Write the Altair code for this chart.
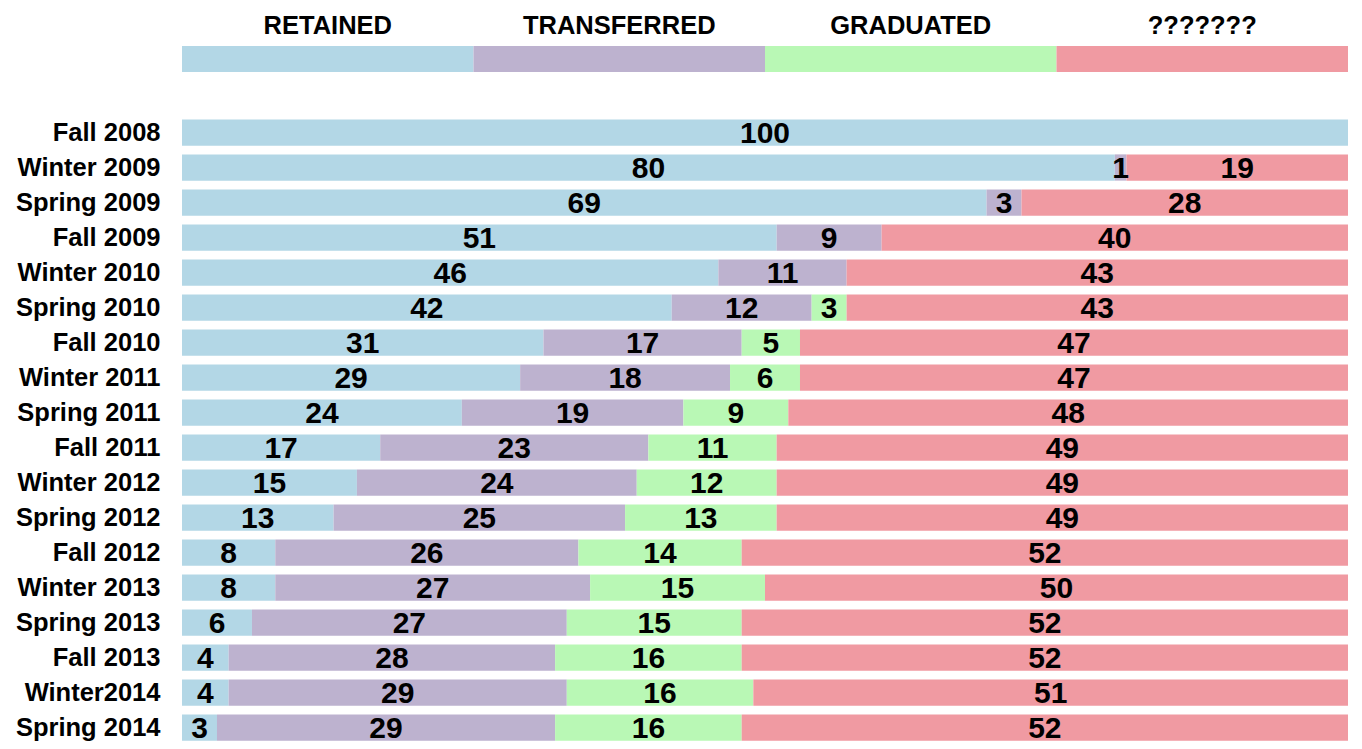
import altair as alt
import pandas as pd

periods = ["Fall 2008", "Winter 2009", "Spring 2009", "Fall 2009", "Winter 2010",
           "Spring 2010", "Fall 2010", "Winter 2011", "Spring 2011", "Fall 2011",
           "Winter 2012", "Spring 2012", "Fall 2012", "Winter 2013", "Spring 2013",
           "Fall 2013", "Winter2014", "Spring 2014"]
categories = ["RETAINED", "TRANSFERRED", "GRADUATED", "???????"]
colors = ["#b3d7e6", "#bdb2cf", "#b9f8b5", "#f09aa2"]

retained = [100, 80, 69, 51, 46, 42, 31, 29, 24, 17, 15, 13, 8, 8, 6, 4, 4, 3]
transferred = [0, 1, 3, 9, 11, 12, 17, 18, 19, 23, 24, 25, 26, 27, 27, 28, 29, 29]
graduated = [0, 0, 0, 0, 0, 3, 5, 6, 9, 11, 12, 13, 14, 15, 15, 16, 16, 16]
unknown = [0, 19, 28, 40, 43, 43, 47, 47, 48, 49, 49, 49, 52, 50, 52, 52, 51, 52]

series = [retained, transferred, graduated, unknown]
rows = []
for i, p in enumerate(periods):
    for j, c in enumerate(categories):
        rows.append({"period": p, "category": c, "order": j, "value": series[j][i]})
df = pd.DataFrame(rows)

FONT = "Liberation Sans, Arial, Helvetica, sans-serif"
color_scale = alt.Scale(domain=categories, range=colors)

legend = alt.Chart(pd.DataFrame({"category": categories})).mark_bar().encode(
    x=alt.X("category:N", sort=categories,
            scale=alt.Scale(domain=categories, paddingInner=0, paddingOuter=0),
            axis=alt.Axis(orient="top", title=None, ticks=False, tickSize=0, domain=False,
                          labelAngle=0, labelFont=FONT, labelFontSize=25.5, labelLimit=0,
                          labelFontWeight="bold", labelColor="black", labelPadding=8)),
    color=alt.Color("category:N", scale=color_scale, legend=None),
).properties(width=1166, height=26)

base = alt.Chart(df).transform_stack(
    stack="value", groupby=["period"], as_=["x0", "x1"],
    sort=[alt.SortField("order", order="ascending")]
).transform_calculate(mid="(datum.x0 + datum.x1) / 2")

y_enc = alt.Y("period:N", sort=periods,
              scale=alt.Scale(paddingInner=0.25, paddingOuter=0.125),
              axis=alt.Axis(title=None, ticks=False, tickSize=0, domain=False, labelLimit=0,
                            labelFont=FONT, labelFontSize=25.5, labelFontWeight="bold",
                            labelColor="black", labelPadding=22))

bars = base.mark_bar().encode(
    x=alt.X("x0:Q", scale=alt.Scale(domain=[0, 100], nice=False, zero=True), axis=None),
    x2="x1:Q",
    y=y_enc,
    color=alt.Color("category:N", scale=color_scale, legend=None),
)

labels = base.transform_filter("datum.value > 0").mark_text(
    font=FONT, fontSize=30, fontWeight="bold", color="black", baseline="middle", dy=1
).encode(
    x=alt.X("mid:Q", scale=alt.Scale(domain=[0, 100], nice=False, zero=True), axis=None),
    y=alt.Y("period:N", sort=periods),
    text=alt.Text("value:Q"),
)

main = alt.layer(bars, labels).properties(width=1166, height=alt.Step(35))

chart = alt.vconcat(legend, main, spacing=43).properties(
    padding={"left": 7, "top": 5, "right": 0, "bottom": 0}
).configure_view(stroke=None)

chart.save("out.html", embed_options={"renderer": "svg", "actions": False})
